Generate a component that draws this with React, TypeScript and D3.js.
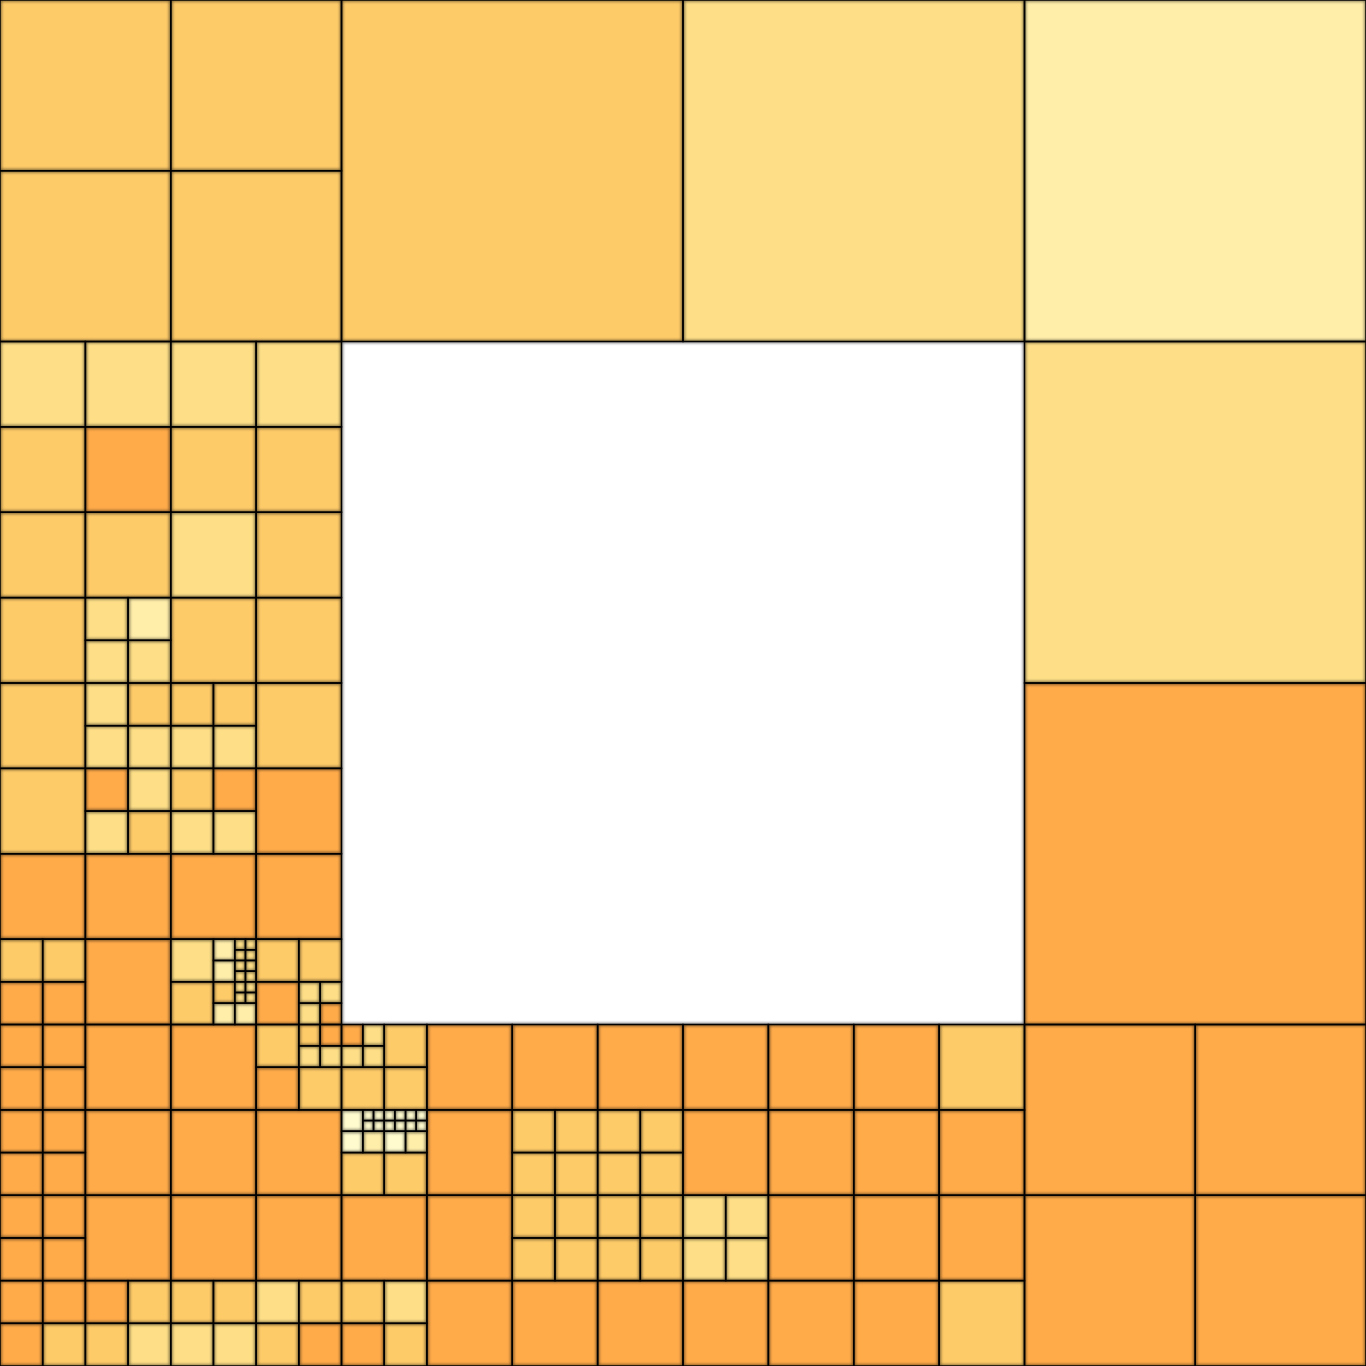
import * as d3 from "d3";
import { useRef, useEffect } from "react";

// Quadtree leaves, addressed by path: each digit picks a quadrant
// (0 = top-left, 1 = top-right, 2 = bottom-left, 3 = bottom-right).
// Grouped by fill shade, from darkest (orange) to palest.
const shade4Cells = [
  "0203", "20030", "20121", "2013", "2020", "2021", "2030", "2031",
  "20222", "20223", "2023", "20332", "203333",
  "22000", "22001", "22002", "22003", "2201", "2210", "221111", "22112",
  "22020", "22021", "22022", "22023", "2203", "2212", "2213",
  "22200", "22201", "22202", "22203", "2221", "2230", "2231",
  "22220", "22221", "22222", "22230", "22333",
  "230000", "2301", "2310", "2311", "2303", "2320", "2321", "23222", "2323", "2332", "2333",
  "31", "3200", "3201", "3210", "3202", "3203", "3212", "3213",
  "3221", "3230", "3231", "3222", "3223", "3232",
  "330", "331", "332", "333",
];

const shade3Cells = [
  "000", "001", "002", "003", "01",
  "0202", "0212", "0213", "0220", "0221", "0231", "0222", "0232", "0233",
  "2000", "20011", "20100", "20101", "2011", "2002", "20033", "20120",
  "20220", "20221", "20322", "203230", "20330", "20331",
  "22110", "221110", "22113", "22223", "22231", "22232", "22320", "22321", "22331", "22332",
  "23001", "23002", "23003", "23022", "23023",
  "23120", "23121", "23122", "23123", "23130", "23131", "23132", "23133",
  "23300", "23301", "23302", "23303", "23310", "23311", "23312", "23313",
  "23220", "23223",
  "3211", "3233",
];

const shade2Cells = [
  "0200", "0201", "0210", "0211", "0230", "02230", "02232", "02233", "10", "13",
  "20010", "20012", "20013", "20102", "20103", "20031", "20032", "20122", "20123", "20320",
  "2032110", "2032111", "2032112", "2032113",
  "2032130", "2032131", "2032132", "2032133",
  "2032310", "2032311", "2032312", "2032313",
  "203330", "203331", "203332",
  "221112", "221113", "22233", "22322", "22323", "22330",
  "230001", "230002", "230003", "23221",
  "32200", "32201", "32202", "32203",
];

const shade1Cells = [
  "02231", "11", "203210", "203212", "203232", "203233", "230203", "230213",
];

const shade0Cells = [
  "230200", "2302010", "2302011", "2302012", "2302013", "230202",
  "2302100", "2302101", "2302102", "2302103",
  "2302110", "2302111", "2302112", "2302113", "230212",
];

const shadeColors = ["#fffbcf", "#ffeeaa", "#fedf88", "#fecb69", "#ffab4a"];

// unit-square box of a quadtree path
function cellBox(path: string) {
  let x = 0;
  let y = 0;
  let size = 1;
  for (const ch of path) {
    const d = +ch;
    size /= 2;
    x += (d % 2) * size;
    y += Math.floor(d / 2) * size;
  }
  return { x, y, size };
}

function Quadtree({ width = 1366, height = 1366 }) {
  const svgRef = useRef<SVGSVGElement>(null);

  useEffect(() => {
    if (!svgRef.current) return;

    const groups = [shade0Cells, shade1Cells, shade2Cells, shade3Cells, shade4Cells];
    const cells = groups.flatMap((paths, shade) =>
      paths.map((path) => ({ path, shade, ...cellBox(path) }))
    );

    const xScale = d3.scaleLinear([0, 1], [0, width]);
    const yScale = d3.scaleLinear([0, 1], [0, height]);
    const color = d3.scaleOrdinal<number, string>(d3.range(5), shadeColors);

    const svg = d3
      .select(svgRef.current)
      .attr("width", width)
      .attr("height", height)
      .attr("viewBox", [0, 0, width, height])
      .attr("style", "position: absolute; left: 0; top: 0; background: #fff;");

    const defs = svg.append("defs");
    defs
      .append("filter")
      .attr("id", "soft")
      .attr("x", "-5%")
      .attr("y", "-5%")
      .attr("width", "110%")
      .attr("height", "110%")
      .append("feGaussianBlur")
      .attr("stdDeviation", 1.6);

    const rectAttrs = (sel: d3.Selection<SVGRectElement, any, any, any>) =>
      sel
        .attr("x", (d) => xScale(d.x))
        .attr("y", (d) => yScale(d.y))
        .attr("width", (d) => xScale(d.x + d.size) - xScale(d.x))
        .attr("height", (d) => yScale(d.y + d.size) - yScale(d.y));

    // fills
    svg
      .append("g")
      .selectAll("rect")
      .data(cells)
      .join("rect")
      .call(rectAttrs)
      .attr("fill", (d) => color(d.shade));

    // soft dark edge
    svg
      .append("g")
      .attr("filter", "url(#soft)")
      .attr("opacity", 0.55)
      .selectAll("rect")
      .data(cells)
      .join("rect")
      .call(rectAttrs)
      .attr("fill", "none")
      .attr("stroke", "#000")
      .attr("stroke-width", 3);

    // crisp outline
    svg
      .append("g")
      .selectAll("rect")
      .data(cells)
      .join("rect")
      .call(rectAttrs)
      .attr("fill", "none")
      .attr("stroke", "#000")
      .attr("stroke-width", 1.5);

    return () => {
      d3.select(svgRef.current).selectAll("*").remove();
    };
  });

  return <svg ref={svgRef} />;
}

export default function App() {
  return <Quadtree />;
}
